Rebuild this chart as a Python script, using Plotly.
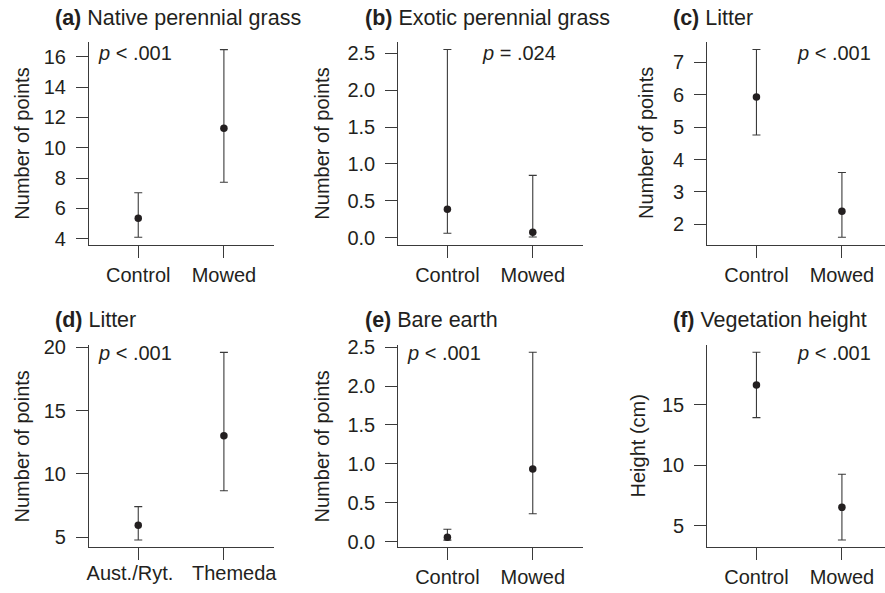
import plotly.graph_objects as go

# ---- data ----
groups_cm = ["Control", "Mowed"]
groups_veg = ["Aust./Ryt.", "Themeda"]

a_mean = [5.35, 11.28]; a_lo = [4.09, 7.72]; a_hi = [7.03, 16.48]
b_mean = [0.385, 0.073]; b_lo = [0.06, 0.01]; b_hi = [2.55, 0.845]
c_mean = [5.93, 2.40]; c_lo = [4.76, 1.60]; c_hi = [7.40, 3.60]
d_mean = [5.95, 13.02]; d_lo = [4.79, 8.68]; d_hi = [7.42, 19.60]
e_mean = [0.057, 0.934]; e_lo = [0.02, 0.36]; e_hi = [0.16, 2.434]
f_mean = [16.66, 6.52]; f_lo = [13.95, 3.82]; f_hi = [19.37, 9.26]

panel_titles = ["<b>(a)</b> Native perennial grass", "<b>(b)</b> Exotic perennial grass",
                "<b>(c)</b> Litter", "<b>(d)</b> Litter", "<b>(e)</b> Bare earth",
                "<b>(f)</b> Vegetation height"]
p_labels = ["<i>p</i> < .001", "<i>p</i> = .024", "<i>p</i> < .001",
            "<i>p</i> < .001", "<i>p</i> < .001", "<i>p</i> < .001"]
y_titles = ["Number of points"] * 5 + ["Height (cm)"]

a_ticks = [4, 6, 8, 10, 12, 14, 16]
b_ticks = [0.0, 0.5, 1.0, 1.5, 2.0, 2.5]
c_ticks = [2, 3, 4, 5, 6, 7]
d_ticks = [5, 10, 15, 20]
e_ticks = [0.0, 0.5, 1.0, 1.5, 2.0, 2.5]
f_ticks = [5, 10, 15]

# ---- styling / layout ----
TXT = "#231f20"
LINE = "#3a3a3a"
FONT = "Liberation Sans, Arial, sans-serif"
W, H = 885, 593
D_LABEL_SHIFT = [-0.097, 0.12]   # label offsets (axis units) for panel (d), avoids overlap

panels = [
    (groups_cm, a_mean, a_lo, a_hi, a_ticks, [3.58, 17.0], None),
    (groups_cm, b_mean, b_lo, b_hi, b_ticks, [-0.099, 2.656], ".1f"),
    (groups_cm, c_mean, c_lo, c_hi, c_ticks, [1.36, 7.64], None),
    (groups_veg, d_mean, d_lo, d_hi, d_ticks, [4.21, 20.18], None),
    (groups_cm, e_mean, e_lo, e_hi, e_ticks, [-0.072, 2.528], ".1f"),
    (groups_cm, f_mean, f_lo, f_hi, f_ticks, [3.21, 19.97], None),
]

col_px = [(89, 274), (398.3, 582.7), (707.3, 885)]
row_px = [(41.7, 245), (345, 547.3)]
xr = [[0.425, 2.585], [0.425, 2.585], [0.425, 2.504]]
title_x = [52.7, 362.7, 671]
title_y = [18.3, 320]
p_x = [95.7, 480, 795, 95.7, 405, 795]
p_y = [53.3, 353.3]
yt_x = [22.3, 322.3, 646.7, 22.3, 322.3, 638.3]

fig = go.Figure()
annotations = []
tickfont = dict(family=FONT, size=20, color=TXT)
for i, (cats, mean, lo, hi, ticks, yr, fmt) in enumerate(panels):
    r, c = divmod(i, 3)
    n = "" if i == 0 else str(i + 1)
    xs = [1, 2]
    fig.add_trace(go.Scatter(
        x=xs, y=mean, mode="markers",
        marker=dict(color=TXT, size=7.5),
        error_y=dict(type="data", symmetric=False,
                     array=[h - m for h, m in zip(hi, mean)],
                     arrayminus=[m - l for m, l in zip(mean, lo)],
                     color=LINE, thickness=1.1, width=4),
        xaxis="x" + n, yaxis="y" + n, showlegend=False, cliponaxis=False,
        hoverinfo="skip"))
    x0, x1 = col_px[c]
    y0, y1 = row_px[r]
    common = dict(showline=True, linecolor=LINE, linewidth=1.2, ticks="outside",
                  ticklen=12, tickwidth=1.1, tickcolor=LINE, showgrid=False,
                  zeroline=False, automargin=False, tickangle=0, tickfont=tickfont)
    fig.update_layout(**{
        "xaxis" + n: dict(domain=[x0 / W, x1 / W], range=xr[c], tickvals=xs,
                          ticktext=cats, anchor="y" + n, ticklabelstandoff=0,
                          showticklabels=(i != 3), **common),
        "yaxis" + n: dict(domain=[1 - y1 / H, 1 - y0 / H], range=yr, tickvals=ticks,
                          tickformat=fmt, anchor="x" + n, ticklabelstandoff=6, **common),
    })
    if i == 3:
        # labels of panel (d) on an overlaying axis, nudged apart as in the original
        fig.add_trace(go.Scatter(x=xs, y=mean, mode="markers", marker=dict(opacity=0),
                                 xaxis="x7", yaxis="y4", showlegend=False, hoverinfo="skip"))
        fig.update_layout(xaxis7=dict(
            overlaying="x4", anchor="y4", domain=[x0 / W, x1 / W], range=xr[c],
            tickvals=[v + s for v, s in zip(xs, D_LABEL_SHIFT)], ticktext=cats,
            ticks="", showline=False, showgrid=False, zeroline=False, automargin=False,
            tickangle=0, tickfont=tickfont, ticklabelstandoff=12))
    annotations.append(dict(text=panel_titles[i], x=title_x[c] / W, y=1 - title_y[r] / H,
                            xref="paper", yref="paper", xanchor="left", yanchor="middle",
                            showarrow=False, font=dict(family=FONT, size=21.5, color=TXT)))
    annotations.append(dict(text=p_labels[i], x=p_x[i] / W, y=1 - p_y[r] / H,
                            xref="paper", yref="paper", xanchor="left", yanchor="middle",
                            showarrow=False, font=dict(family=FONT, size=20, color=TXT)))
    annotations.append(dict(text=y_titles[i], x=yt_x[i] / W, y=1 - (y0 + y1) / 2 / H,
                            xref="paper", yref="paper", xanchor="center", yanchor="middle",
                            textangle=-90, showarrow=False,
                            font=dict(family=FONT, size=20, color=TXT)))

fig.update_layout(width=W, height=H, margin=dict(l=0, r=0, t=0, b=0, autoexpand=False),
                  paper_bgcolor="white", plot_bgcolor="white", template="none",
                  annotations=annotations, font=dict(family=FONT, color=TXT))
fig.write_html("out.html", config={"displayModeBar": False},
               post_script="document.body.style.margin='0px';")
